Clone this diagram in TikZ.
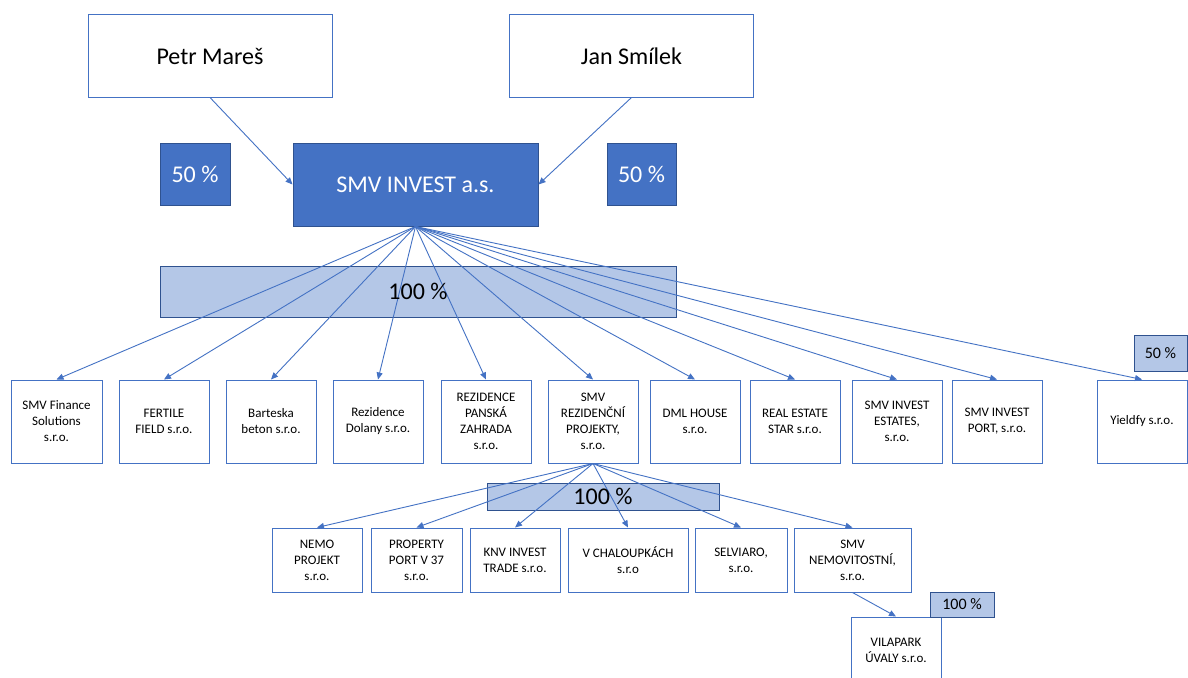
\documentclass[tikz,border=0pt]{standalone}
\usepackage{fontspec}
\setmainfont{Carlito}
\usetikzlibrary{arrows.meta}
\definecolor{accent}{HTML}{4472C4}
\definecolor{accentdark}{HTML}{2F528F}
\definecolor{bandfill}{HTML}{B4C7E7}
\tikzset{
  wbox/.style={draw=accent, line width=1pt, fill=white, align=center, inner sep=0pt,
    font=\fontsize{13}{16}\selectfont, text=black},
  rowone/.style={wbox, minimum width=90pt, minimum height=83pt},
  rowtwo/.style={wbox, minimum height=64pt},
  topbox/.style={draw=accent, line width=1pt, fill=white, inner sep=0pt,
    font=\fontsize{24}{29}\selectfont, minimum width=244pt, minimum height=82pt},
  darkbox/.style={draw=accentdark, line width=1pt, fill=accent, text=white, inner sep=0pt,
    font=\fontsize{24}{29}\selectfont},
  band/.style={draw=accentdark, line width=1pt, fill=bandfill, inner sep=0pt},
  bandtext/.style={inner sep=0pt, text=black},
  conn/.style={draw=accent, line width=0.9pt, -{Triangle[length=7pt,width=6pt]}},
}
\begin{document}
\begin{tikzpicture}[x=1pt,y=-1pt]
\clip (0,0) rectangle (1188,677);
\fill[white] (0,0) rectangle (1188,677);

% top level
\node[topbox] (petr) at (210,56) {Petr Mareš};
\node[topbox] (jan) at (631.5,56) {Jan Smílek};
\node[darkbox, minimum width=70pt, minimum height=62pt] (pctl) at (195,174) {50 \%};
\node[darkbox, minimum width=69pt, minimum height=62pt] (pctr) at (641.5,174) {50 \%};
\node[darkbox, minimum width=245pt, minimum height=83pt] (smv) at (415.5,184.5) {SMV INVEST a.s.};

\draw[conn] (petr.south) -- (smv.west);
\draw[conn] (jan.south) -- (smv.east);

% band 1
\node[band, minimum width=516pt, minimum height=51pt] (band1) at (418,291.5) {};

% row 1
\node[rowone, minimum width=91pt] (b1) at (56.5,421.5) {SMV Finance\\Solutions\\s.r.o.};
\node[rowone] (b2) at (164,421.5) {FERTILE\\FIELD s.r.o.};
\node[rowone] (b3) at (271,421.5) {Barteska\\beton s.r.o.};
\node[rowone] (b4) at (378,421.5) {Rezidence\\Dolany s.r.o.};
\node[rowone] (b5) at (486,421.5) {REZIDENCE\\PANSKÁ\\ZAHRADA\\s.r.o.};
\node[rowone] (b6) at (593,421.5) {SMV\\REZIDENČNÍ\\PROJEKTY,\\s.r.o.};
\node[rowone] (b7) at (695,421.5) {DML HOUSE\\s.r.o.};
\node[rowone] (b8) at (795,421.5) {REAL ESTATE\\STAR s.r.o.};
\node[rowone] (b9) at (897,421.5) {SMV INVEST\\ESTATES,\\s.r.o.};
\node[rowone] (b10) at (997,421.5) {SMV INVEST\\PORT, s.r.o.};
\node[rowone] (b11) at (1142,421.5) {Yieldfy s.r.o.};
\node[band, minimum width=53pt, minimum height=36pt, font=\fontsize{16}{19}\selectfont] (pcty) at (1160.5,353) {50 \%};

\foreach \b in {b1,b2,b3,b4,b5,b6,b7,b8,b9,b10,b11}
  \draw[conn] (smv.south) -- (\b.north);

\node[bandtext, font=\fontsize{24}{29}\selectfont] (band1label) at (band1.center) {100 \%};

% band 2
\node[band, minimum width=232pt, minimum height=27pt] (band2) at (603,496.5) {};

% row 2
\node[rowtwo, minimum width=90pt] (c1) at (317,560) {NEMO\\PROJEKT\\s.r.o.};
\node[rowtwo, minimum width=91pt] (c2) at (416.5,560) {PROPERTY\\PORT V 37\\s.r.o.};
\node[rowtwo, minimum width=90pt] (c3) at (515,560) {KNV INVEST\\TRADE s.r.o.};
\node[rowtwo, minimum width=120pt] (c4) at (628,560) {V CHALOUPKÁCH\\s.r.o};
\node[rowtwo, minimum width=92pt] (c5) at (741,560) {SELVIARO,\\s.r.o.};
\node[rowtwo, minimum width=117pt] (c6) at (852.5,560) {SMV\\NEMOVITOSTNÍ,\\s.r.o.};

\foreach \c in {c1,c2,c3,c4,c5,c6}
  \draw[conn] (b6.south) -- (\c.north);

\node[bandtext, font=\fontsize{24}{29}\selectfont] (band2label) at (band2.center) {100 \%};

% bottom
\node[wbox, minimum width=90pt, minimum height=66pt] (vila) at (896,650) {VILAPARK\\ÚVALY s.r.o.};
\node[band, minimum width=64pt, minimum height=25pt, font=\fontsize{16}{19}\selectfont] (pctv) at (962,604.5) {100 \%};
\draw[conn] (c6.south) -- (vila.north);
\end{tikzpicture}
\end{document}
